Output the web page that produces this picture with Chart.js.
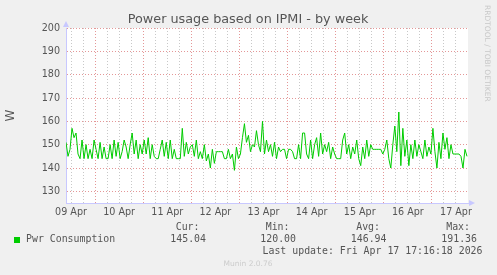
<!DOCTYPE html>
<html>
<head>
<meta charset="utf-8">
<script src="https://cdn.jsdelivr.net/npm/chart.js@4/dist/chart.umd.min.js"></script>
<style>
  html, body { margin: 0; padding: 0; background: #f0f0f0; }
  #wrap { position: relative; width: 497px; height: 275px; }
</style>
</head>
<body>
<div id="wrap"><canvas id="munin" width="497" height="275"></canvas></div>
<script>
/* Power usage based on IPMI - by week (munin style) */

// hours since 09 Apr 00:00, one sample per hour
const START_HOUR = 9.5;
const END_HOUR   = 210;

const TITLE      = 'Power usage based on IPMI - by week';
const DAY_LABELS = ['09 Apr', '10 Apr', '11 Apr', '12 Apr', '13 Apr', '14 Apr', '15 Apr', '16 Apr', '17 Apr'];
const Y_TICKS    = [130, 140, 150, 160, 170, 180, 190, 200];

const apr09 = [151, 145, 148, 157, 153, 155, 146, 144, 152, 144, 150, 144, 148, 144, 152];
const apr10 = [148, 144, 151, 144, 149, 144, 144, 150, 144, 152, 145, 151, 144, 147, 152, 149, 144, 150, 155, 146, 152, 144, 150, 146];
const apr11 = [152, 146, 153, 144, 150, 145, 144, 144, 148, 152, 145, 151, 144, 152, 144, 148, 144, 144, 144, 157, 145, 151, 146, 149];
const apr12 = [150, 145, 152, 144, 147, 144, 150, 143, 146, 140, 148, 142, 147, 147, 147, 147, 144, 144, 148, 144, 146, 139, 149, 144];
const apr13 = [146, 153, 159, 151, 154, 147, 150, 149, 156, 150, 147, 160, 146, 152, 147, 150, 145, 151, 144, 149, 147, 148, 148, 144];
const apr14 = [148, 148, 147, 144, 144, 150, 144, 155, 155, 146, 144, 152, 144, 150, 153, 145, 155, 146, 150, 147, 151, 144, 149, 146];
const apr15 = [144, 144, 144, 152, 155, 146, 150, 144, 149, 146, 152, 144, 141, 149, 144, 152, 145, 150, 148, 148, 148, 148, 148, 146];
const apr16 = [148, 152, 144, 140, 150, 158, 147, 164, 141, 157, 145, 152, 141, 150, 144, 152, 145, 150, 147, 144, 152, 145, 149, 146];
const apr17 = [157, 147, 140, 151, 144, 155, 148, 153, 144, 150, 146, 146, 146, 146, 145, 140, 148, 145];

const SERIES_NAME = 'Pwr Consumption';
const STATS = { cur: '145.04', min: '120.00', avg: '146.94', max: '191.36' };
const LAST_UPDATE = 'Last update: Fri Apr 17 17:16:18 2026';

const power = [].concat(apr09, apr10, apr11, apr12, apr13, apr14, apr15, apr16, apr17);
const points = power.map((v, i) => ({ x: START_HOUR + i, y: v }));

const GREEN   = '#00cc00';
const TEXT    = '#555555';
const AXIS    = '#c8c8ff';
const MAJOR   = 'rgba(225,140,140,0.9)';
const MINOR   = '#c8c8c8';

/* ── white plot area, title, legend block, axis arrows, side texts ── */
const muninDecor = {
  id: 'muninDecor',
  beforeDraw(chart) {
    const { ctx, chartArea: a } = chart;
    ctx.save();
    ctx.fillStyle = '#f0f0f0';
    ctx.fillRect(0, 0, chart.width, chart.height);
    ctx.fillStyle = '#ffffff';
    ctx.fillRect(a.left, a.top, a.right - a.left, a.bottom - a.top);
    ctx.restore();
  },
  afterDraw(chart) {
    const { ctx, chartArea: a } = chart;
    ctx.save();

    // title
    ctx.fillStyle = TEXT;
    ctx.font = '12.8px "DejaVu Sans", sans-serif';
    ctx.textAlign = 'center';
    ctx.textBaseline = 'middle';
    ctx.fillText(TITLE, 248, 19.5);

    // axis arrows
    ctx.fillStyle = AXIS;
    ctx.beginPath();
    ctx.moveTo(a.left - 3, a.top - 1); ctx.lineTo(a.left + 3, a.top - 1); ctx.lineTo(a.left, a.top - 7);
    ctx.fill();
    ctx.beginPath();
    ctx.moveTo(a.right + 1, a.bottom - 3); ctx.lineTo(a.right + 1, a.bottom + 3); ctx.lineTo(a.right + 7, a.bottom);
    ctx.fill();

    // legend + stats
    ctx.fillStyle = GREEN;
    ctx.fillRect(14, 237, 6, 6);
    ctx.fillStyle = TEXT;
    ctx.font = '9.9px "DejaVu Sans Mono", monospace';
    ctx.textAlign = 'left';
    ctx.fillText(SERIES_NAME, 26, 239.5);
    ctx.textAlign = 'right';
    ctx.fillText('Cur:', 199.5, 227);   ctx.fillText(STATS.cur, 206, 239.5);
    ctx.fillText('Min:', 289.5, 227);   ctx.fillText(STATS.min, 296, 239.5);
    ctx.fillText('Avg:', 380, 227);     ctx.fillText(STATS.avg, 386.5, 239.5);
    ctx.fillText('Max:', 470, 227);     ctx.fillText(STATS.max, 477, 239.5);
    ctx.fillText(LAST_UPDATE, 482.5, 251.5);

    // footer
    ctx.fillStyle = '#cccccc';
    ctx.font = '7.5px "DejaVu Sans", sans-serif';
    ctx.textAlign = 'center';
    ctx.fillText('Munin 2.0.76', 248, 264);

    // rrdtool watermark
    ctx.translate(487, 5);
    ctx.rotate(Math.PI / 2);
    ctx.textAlign = 'left';
    ctx.fillStyle = '#c8c8c8';
    ctx.fillText('RRDTOOL / TOBI OETIKER', 0, 0);

    ctx.restore();
  }
};

new Chart(document.getElementById('munin'), {
  type: 'line',
  data: {
    datasets: [{
      label: SERIES_NAME,
      data: points,
      borderColor: GREEN,
      borderWidth: 1,
      pointRadius: 0,
      tension: 0,
      fill: false
    }]
  },
  options: {
    responsive: false,
    animation: false,
    layout: { padding: { left: 4, right: 29, top: 28, bottom: 0 } },
    plugins: {
      legend: { display: false },
      tooltip: { enabled: false },
      title: { display: false }
    },
    scales: {
      x: {
        type: 'linear',
        min: START_HOUR, max: END_HOUR,
        afterBuildTicks: s => {
          const t = [];
          for (let h = 12; h < END_HOUR; h += 6) t.push({ value: h });
          s.ticks = t;
        },
        afterFit: s => { s.height = 72; },
        ticks: {
          autoSkip: false, maxRotation: 0, padding: 4,
          color: TEXT, font: { family: 'DejaVu Sans', size: 9.6 },
          callback: v => (v % 24 === 12 ? DAY_LABELS[(v - 12) / 24] : '')
        },
        grid: {
          drawTicks: false,
          color: c => (c.tick && c.tick.value % 24 === 0 ? MAJOR : MINOR)
        },
        border: { color: AXIS, width: 1, dash: [1, 2] }
      },
      y: {
        min: 125, max: 200,
        afterBuildTicks: s => {
          const t = [];
          for (let v = 130; v <= 200; v += 5) t.push({ value: v });
          s.ticks = t;
        },
        afterFit: s => { s.width = 62; },
        ticks: {
          padding: 6,
          color: TEXT, font: { family: 'DejaVu Sans', size: 9.6 },
          callback: v => (Y_TICKS.includes(v) ? String(v) : '')
        },
        grid: {
          drawTicks: false,
          color: c => (c.tick && c.tick.value % 10 === 0 ? MAJOR : MINOR)
        },
        border: { color: AXIS, width: 1, dash: [1, 2] },
        title: {
          display: true, text: 'W', color: TEXT,
          font: { family: 'DejaVu Sans', size: 12 },
          padding: { top: 0, bottom: 0 }
        }
      }
    }
  },
  plugins: [muninDecor]
});
</script>
</body>
</html>
